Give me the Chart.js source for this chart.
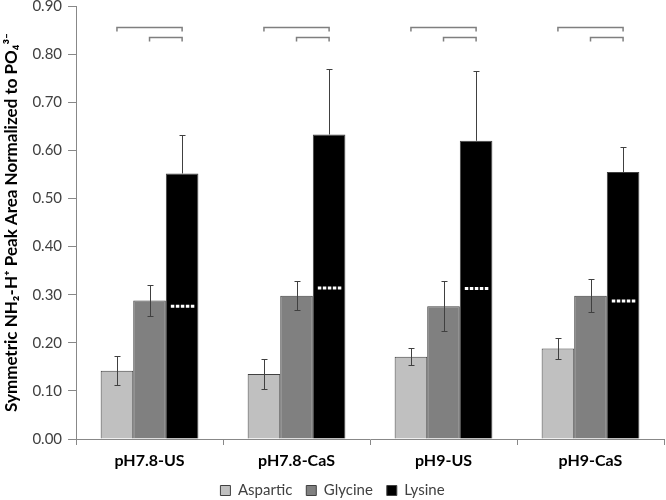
<!DOCTYPE html>
<html>
<head>
<meta charset="utf-8">
<script src="https://cdn.jsdelivr.net/npm/chart.js@4"></script>
<style>
  html, body { margin: 0; padding: 0; background: #fff; }
  #wrap { width: 666px; height: 500px; }
</style>
</head>
<body>
<div id="wrap"><canvas id="bar-chart" width="666" height="500"></canvas></div>
<script>
var categories = ["pH7.8-US", "pH7.8-CaS", "pH9-US", "pH9-CaS"];
var aspartic = [0.142, 0.135, 0.171, 0.188];
var glycine = [0.288, 0.298, 0.276, 0.298];
var lysine = [0.552, 0.633, 0.620, 0.555];
var asparticErr = [0.030, 0.032, 0.018, 0.021];
var glycineErr = [0.033, 0.030, 0.052, 0.035];
var lysineErr = [0.080, 0.137, 0.146, 0.053];
// white dotted marks inside the lysine bars
var lysineMark = [0.276, 0.314, 0.313, 0.287];
// significance brackets: [from dataset, to dataset, level]
var brackets = [[0, 2, 0.856], [1, 2, 0.835]];

var errors = [asparticErr, glycineErr, lysineErr];

var extras = {
  id: 'extras',
  afterDatasetsDraw: function (chart) {
    var ctx = chart.ctx;
    var y = chart.scales.y;
    ctx.save();
    // error bars (lower half hidden inside the black lysine bars)
    chart.data.datasets.forEach(function (ds, i) {
      var meta = chart.getDatasetMeta(i);
      meta.data.forEach(function (bar, j) {
        var v = ds.data[j], e = errors[i][j];
        var top = Math.round(y.getPixelForValue(v + e)) + 0.5;
        var bot = i == 2 ? y.getPixelForValue(v) : Math.round(y.getPixelForValue(v - e)) + 0.5;
        var cx = Math.round(bar.x) + 0.5;
        ctx.strokeStyle = '#404040';
        ctx.lineWidth = 1;
        ctx.beginPath();
        ctx.moveTo(cx, top); ctx.lineTo(cx, bot);
        ctx.moveTo(cx - 3, top); ctx.lineTo(cx + 3, top);
        if (i != 2) { ctx.moveTo(cx - 3, bot); ctx.lineTo(cx + 3, bot); }
        ctx.stroke();
      });
    });
    // dotted marks
    var lys = chart.getDatasetMeta(2);
    ctx.strokeStyle = '#ffffff';
    ctx.lineWidth = 3;
    ctx.setLineDash([3.5, 1.5]);
    lys.data.forEach(function (bar, j) {
      var py = y.getPixelForValue(lysineMark[j]);
      ctx.beginPath();
      ctx.moveTo(bar.x - bar.width / 2 + 5, py);
      ctx.lineTo(bar.x + bar.width / 2 - 3, py);
      ctx.stroke();
    });
    ctx.setLineDash([]);
    // brackets
    ctx.strokeStyle = '#7f7f7f';
    ctx.lineWidth = 1.5;
    categories.forEach(function (c, j) {
      brackets.forEach(function (b) {
        var x1 = chart.getDatasetMeta(b[0]).data[j].x;
        var x2 = chart.getDatasetMeta(b[1]).data[j].x;
        var py = Math.round(y.getPixelForValue(b[2])) + 0.5;
        ctx.beginPath();
        ctx.moveTo(x1, py + 4); ctx.lineTo(x1, py);
        ctx.lineTo(x2, py); ctx.lineTo(x2, py + 4);
        ctx.stroke();
      });
    });
    ctx.restore();
  }
};

var ctx = document.getElementById('bar-chart').getContext('2d');
var myChart = new Chart(ctx, {
  type: 'bar',
  data: {
    labels: categories,
    datasets: [
      { label: 'Aspartic', data: aspartic, backgroundColor: '#c0c0c0', borderColor: '#404040', borderWidth: 1 },
      { label: 'Glycine', data: glycine, backgroundColor: '#808080', borderColor: '#404040', borderWidth: 1 },
      { label: 'Lysine', data: lysine, backgroundColor: '#000000', borderColor: '#404040', borderWidth: 1 }
    ]
  },
  options: {
    responsive: false,
    animation: false,
    layout: { padding: { top: 0, right: 2, left: 1, bottom: -8 } },
    datasets: { bar: { categoryPercentage: 0.665, barPercentage: 1.0 } },
    plugins: {
      tooltip: { enabled: false },
      legend: {
        position: 'bottom',
        labels: {
          boxWidth: 10, boxHeight: 10, padding: 14,
          color: '#404040',
          font: { family: 'Lato', size: 15 }
        }
      }
    },
    scales: {
      x: {
        grid: { drawOnChartArea: false, offset: true, tickLength: 6, color: '#888888' },
        border: { color: '#888888' },
        ticks: { color: '#000000', font: { family: 'Lato', size: 16, weight: 'bold', lineHeight: 1 }, padding: 8 },
        afterFit: function (scale) { scale.height -= 8; }
      },
      y: {
        min: 0, max: 0.9,
        grid: { drawOnChartArea: false, tickLength: 8, color: '#888888' },
        border: { color: '#888888' },
        ticks: {
          stepSize: 0.1, color: '#404040', padding: 6,
          font: { family: 'Lato', size: 15, lineHeight: 0.01 },
          callback: function (v) { return Number(v).toFixed(2); }
        },
        title: {
          display: true,
          text: 'Symmetric NH\u2082-H\u207A Peak Area Normalized to PO\u2084\u00B3\u207B',
          color: '#000000',
          font: { family: 'Lato', size: 17, weight: 'bold' },
          padding: { top: 0, bottom: 5 }
        }
      }
    }
  },
  plugins: [extras]
});
</script>
</body>
</html>
